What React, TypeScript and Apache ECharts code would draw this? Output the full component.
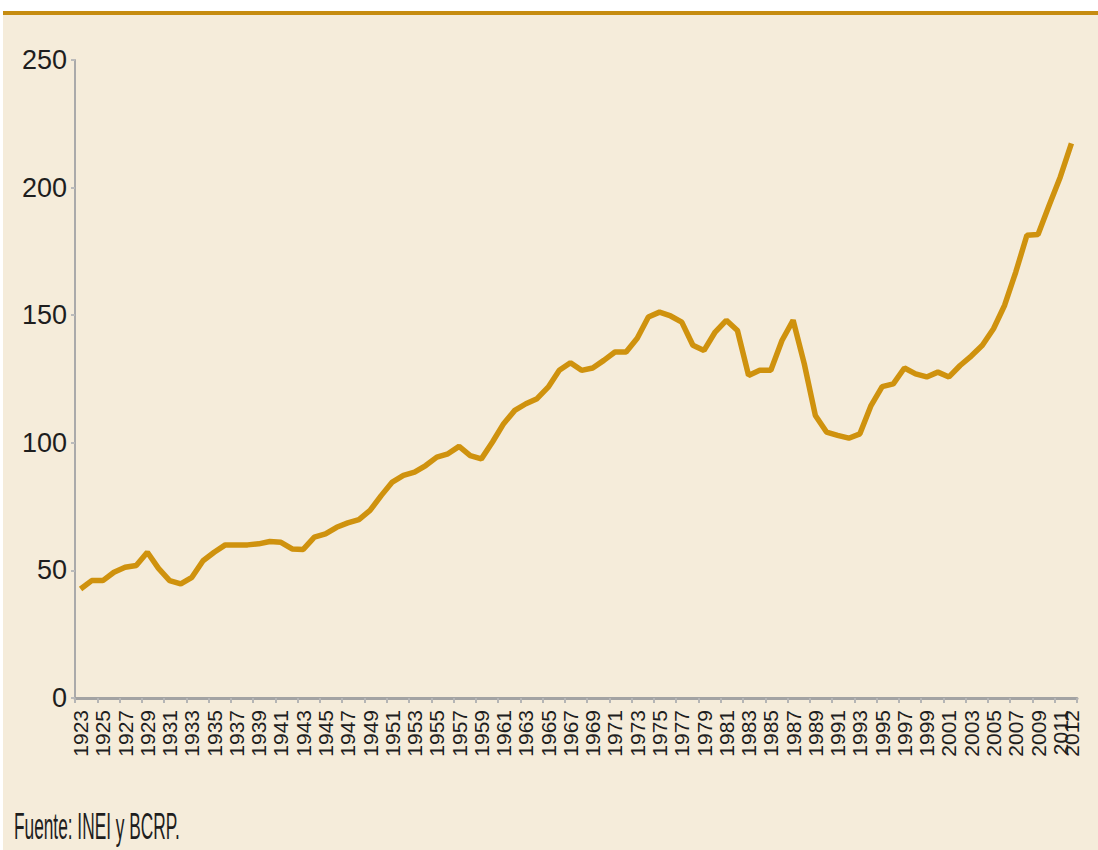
import React, { useEffect, useRef } from "react";
import * as echarts from "echarts";

const years: string[] = [];
for (let y = 1923; y <= 2012; y++) years.push(String(y));

const values: number[] = [
  42.7, 46, 46, 49.3, 51.2, 51.9, 57.1, 50.8, 46, 44.7,
  47.3, 53.8, 57.1, 60, 60, 60, 60.4, 61.3, 61, 58.4,
  58.2, 63, 64.3, 66.9, 68.6, 69.9, 73.5, 79.3, 84.6, 87.2,
  88.5, 91.1, 94.4, 95.7, 98.6, 95, 93.7, 100.3, 107.5, 112.7,
  115.3, 117.3, 121.8, 128.4, 131.4, 128.4, 129.3, 132.3, 135.6, 135.6,
  141, 149.3, 151.2, 149.7, 147.3, 138.2, 136.2, 143.4, 148, 144,
  126.4, 128.4, 128.4, 140.1, 148, 131, 110.7, 104.2, 102.9, 101.8,
  103.5, 114.6, 122, 123.1, 129.3, 127, 125.8, 127.7, 125.8, 130.3,
  134, 138.2, 144.7, 153.9, 166.9, 181.3, 181.6, 193.1, 204.2, 217.3,
];

const sourceText = "Fuente: INEI y BCRP.";

export default function App() {
  const ref = useRef<HTMLDivElement>(null);
  useEffect(() => {
    if (!ref.current) return;
    const chart = echarts.init(ref.current, undefined, { renderer: "svg" });
    const last = years.length - 1;
    chart.setOption({
      animation: false,
      grid: { left: 75, right: 21, top: 60, bottom: 152, containLabel: false },
      xAxis: {
        type: "category",
        data: years,
        boundaryGap: true,
        axisLine: { lineStyle: { color: "#a3a3a3", width: 3 } },
        axisTick: {
          show: true,
          interval: (i: number) => i % 2 === 0,
          length: 5,
          lineStyle: { color: "#b5b5b5", width: 2 },
        },
        axisLabel: {
          interval: 0,
          formatter: (v: string, i: number) => (i % 2 === 0 || i === last ? v : ""),
          hideOverlap: false,
          rotate: 90,
          margin: 12,
          fontFamily: "Liberation Sans, Arial, sans-serif",
          fontSize: 21,
          color: "#1e1e1e",
        },
        splitLine: { show: false },
      },
      yAxis: {
        type: "value",
        min: 0,
        max: 250,
        interval: 50,
        axisLine: { show: true, lineStyle: { color: "#aaaaaa", width: 2 } },
        axisTick: { show: true, length: 4, lineStyle: { color: "#bbbbbb", width: 2 } },
        axisLabel: {
          margin: 8,
          fontFamily: "Liberation Sans, Arial, sans-serif",
          fontSize: 27,
          color: "#1e1e1e",
        },
        splitLine: { show: false },
      },
      series: [
        {
          type: "line",
          data: values,
          symbol: "none",
          lineStyle: { color: "#CF920E", width: 5.5 },
        },
      ],
      graphic: [
        {
          type: "text",
          left: 14,
          top: 808,
          scaleX: 0.48,
          style: {
            text: sourceText,
            fontFamily: "Liberation Sans, Arial, sans-serif",
            fontSize: 36,
            fill: "#1e1e1e",
          },
        },
      ],
    });
    return () => chart.dispose();
  }, []);
  return (
    <div style={{ position: "fixed", left: 0, top: 0, width: 1098, height: 850, background: "#ffffff" }}>
      <div style={{ position: "absolute", left: 3, top: 11, width: 1095, height: 4, background: "#C68C10" }} />
      <div style={{ position: "absolute", left: 3, top: 15, width: 1095, height: 835, background: "#F5ECDA" }} />
      <div ref={ref} style={{ position: "absolute", left: 0, top: 0, width: 1098, height: 850 }} />
    </div>
  );
}
